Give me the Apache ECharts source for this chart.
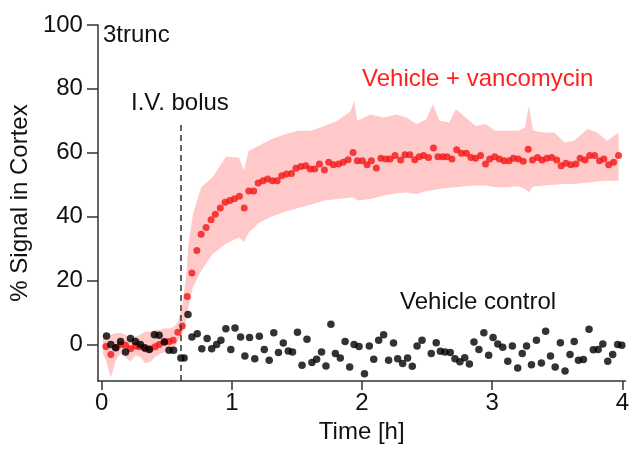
<!DOCTYPE html>
<html>
<head>
<meta charset="utf-8">
<script src="https://cdn.jsdelivr.net/npm/echarts@6/dist/echarts.min.js"></script>
<style>
  html, body { margin: 0; padding: 0; background: #fff; }
  #chart { width: 632px; height: 449px; }
</style>
</head>
<body>
<div id="chart"></div>
<script>
// time in hours, values in % signal
var vancoT = [0.032, 0.070, 0.108, 0.145, 0.183, 0.221, 0.259, 0.289, 0.335, 0.373, 0.411, 0.441, 0.483, 0.517, 0.549, 0.585, 0.619, 0.657, 0.693, 0.731,
  0.764, 0.802, 0.840, 0.873, 0.911, 0.948, 0.984, 1.020, 1.058, 1.095, 1.130, 1.168, 1.202, 1.239, 1.274, 1.312, 1.348, 1.383, 1.420, 1.458,
  1.492, 1.530, 1.567, 1.602, 1.636, 1.673, 1.711, 1.744, 1.780, 1.820, 1.855, 1.893, 1.931, 1.964, 2.002, 2.039, 2.072, 2.110, 2.145, 2.183,
  2.216, 2.254, 2.297, 2.330, 2.367, 2.405, 2.439, 2.473, 2.511, 2.549, 2.583, 2.620, 2.653, 2.691, 2.727, 2.764, 2.802, 2.837, 2.873, 2.911,
  2.949, 2.981, 3.019, 3.055, 3.092, 3.130, 3.163, 3.201, 3.239, 3.277, 3.310, 3.348, 3.383, 3.420, 3.458, 3.496, 3.530, 3.567, 3.605, 3.643,
  3.676, 3.714, 3.749, 3.787, 3.825, 3.858, 3.895, 3.933, 3.971];
var vancoY = [-0.7, -3.2, -1.0, -0.1, -0.3, -1.4, -0.5, -0.8, -1.4, -1.4, -0.8, -0.1, 0.9, 0.9, 1.25, 3.8, 5.7, 15, 22.3, 29.4,
  34.5, 36.6, 39, 40.7, 42.7, 44.5, 45, 45.6, 46.4, 42.7, 48, 48, 50.5, 51.25, 51.8, 51.25, 51.25, 52.8, 53.3, 53.5,
  55.1, 55.7, 55.9, 54.9, 54.9, 56.5, 54.6, 57, 56.25, 56.5, 57, 57.8, 60.1, 57.5, 57.5, 56.25, 57.5, 55.2, 58.3, 58,
  58, 59.1, 57.7, 59.4, 59.4, 57.8, 58.75, 59.1, 58.5, 61.5, 58.75, 58.75, 58.75, 58.0, 60.9, 59.8, 59.8, 58.5, 58.3, 59.1,
  56.5, 58.0, 58.75, 58.0, 57.5, 57.5, 58.3, 58.0, 57.3, 61.1, 57.7, 58.5, 57.7, 58.3, 58.5, 57.7, 55.9, 56.7, 56.25, 56.5,
  58.3, 57.7, 59.1, 59.1, 57.5, 58.0, 56.25, 57.0, 59.1];

// shaded spread of the vancomycin group
var bandT = [0.009, 0.032, 0.070, 0.108, 0.145, 0.183, 0.221, 0.259, 0.297, 0.335, 0.373, 0.411, 0.448, 0.486, 0.524, 0.555, 0.585, 0.619, 0.651, 0.663,
  0.701, 0.764, 0.852, 0.954, 1.055, 1.092, 1.130, 1.206, 1.307, 1.408, 1.509, 1.610, 1.711, 1.812, 1.913, 1.939, 1.964, 2.064, 2.166, 2.267,
  2.342, 2.418, 2.494, 2.545, 2.595, 2.670, 2.721, 2.797, 2.873, 2.949, 3.024, 3.100, 3.201, 3.252, 3.282, 3.314, 3.403, 3.479, 3.555, 3.630,
  3.731, 3.807, 3.883, 3.971];
var bandHi = [3, 3, 3, 3.5, 3.5, 3, 1.5, 2.5, 3, 4, 4, 4.5, 4.5, 5, 5, 5.5, 7, 12, 22, 30.4,
  40.8, 49.2, 52.3, 58.75, 58.5, 54.4, 60.6, 62.2, 64.3, 65.8, 66.9, 66.9, 68.4, 70, 73.1, 76.25, 70, 72, 71, 72,
  71, 69, 70.5, 75.2, 70, 69.5, 73.6, 71, 68.4, 69, 66.9, 66.9, 66.9, 67.9, 74.7, 66.9, 66.3, 66.3, 63.2, 63.75,
  67.4, 66.3, 63.75, 66.3];
var bandLo = [-3, -5, -10.5, -5, -3, -4, -5.5, -3.5, -4, -6, -5.5, -4, -3, -2.5, -2, -1.5, 1, 3, 8, 11,
  17.9, 23, 28.3, 31.5, 33.5, 32, 35, 38, 40, 41.5, 42.7, 43.8, 45, 45.5, 46, 46, 45, 45.5, 46.6, 47.3,
  47.5, 47.1, 48, 48.3, 48.6, 49, 49.2, 49.5, 49.7, 49.7, 49.2, 49.2, 49.5, 48.6, 47.6, 49.4, 49.7, 50, 50.2, 50.2,
  50.7, 51, 51.25, 51.25];

var controlT = [0.037, 0.070, 0.108, 0.145, 0.183, 0.221, 0.259, 0.297, 0.330, 0.365, 0.405, 0.441, 0.481, 0.517, 0.552, 0.608, 0.633, 0.663, 0.693, 0.734,
  0.769, 0.810, 0.845, 0.883, 0.916, 0.954, 0.992, 1.024, 1.067, 1.100, 1.136, 1.176, 1.211, 1.249, 1.287, 1.322, 1.358, 1.395, 1.433, 1.466,
  1.504, 1.539, 1.577, 1.615, 1.651, 1.689, 1.723, 1.761, 1.795, 1.833, 1.870, 1.905, 1.939, 1.977, 2.019, 2.056, 2.090, 2.128, 2.166, 2.204,
  2.242, 2.274, 2.312, 2.350, 2.386, 2.423, 2.461, 2.532, 2.570, 2.602, 2.638, 2.678, 2.714, 2.752, 2.789, 2.825, 2.860, 2.898, 2.936, 2.973,
  3.007, 3.043, 3.081, 3.120, 3.155, 3.196, 3.231, 3.264, 3.302, 3.340, 3.378, 3.411, 3.448, 3.484, 3.524, 3.560, 3.598, 3.630, 3.663, 3.701,
  3.744, 3.777, 3.814, 3.850, 3.888, 3.926, 3.964, 3.996];
var controlY = [2.6, -0.1, -1.1, 0.9, -2.4, 1.8, 0.9, -0.1, -1.1, -1.6, 3.0, 2.8, 0.7, -1.9, -1.9, -4.3, -4.3, 9.3, 2.3, 3.3,
  -1.4, 1.8, -1.4, -0.1, 1.25, 4.9, -1.6, 5.1, 2.3, -3.7, 2.1, -4.5, 2.5, -1.6, -5, 3.6, -2.6, 0.4, -2.1, -2.4,
  3.8, -6.6, 1.6, -5.7, -4.7, -2.4, -6.8, 6.25, -2.9, -4.3, 0.9, -7.1, -0.1, -0.7, -9.2, -0.5, -4.7, 1.25, 3.0, -5,
  0.4, -4.5, -6, -4.3, -6.9, -0.5, 1.25, -2.9, 0.5, -2.2, -2.4, -2.6, -4.5, -5.5, -4.2, -6.2, 0.7, -1.6, 3.6, -3.4,
  2.1, 0.1, -0.9, -5.3, -0.5, -7.4, -2.9, -0.5, -6.4, 1.25, -5.9, 4.1, -3.7, -7.1, 0.5, -8.4, -3.2, 0.9, -5, -4.8,
  4.7, -1.7, -1.6, 0.1, -5.3, -3.2, -0.1, -0.3];

var xTicks = [0, 1, 2, 3, 4];
var yTicks = [0, 20, 40, 60, 80, 100];
var bolusT = 0.606;
var bolusTop = 68.7;

var FONT = "'Liberation Sans', Arial, sans-serif";
var AXIS = '#333';

function pairs(xs, ys) {
  return xs.map(function (x, i) { return [x, ys[i]]; });
}

// the band is drawn as one polygon: upper edge forward, lower edge back
function renderBand(params, api) {
  if (params.dataIndex !== 0) return null;
  var pts = [];
  for (var i = 0; i < bandT.length; i++) pts.push(api.coord([bandT[i], bandHi[i]]));
  for (var j = bandT.length - 1; j >= 0; j--) pts.push(api.coord([bandT[j], bandLo[j]]));
  return {
    type: 'polygon',
    shape: { points: pts },
    style: { fill: '#ffc9c9', stroke: null }
  };
}

var myChart = echarts.init(document.getElementById('chart'), null, { renderer: 'canvas' });

myChart.setOption({
  animation: false,
  backgroundColor: '#fff',
  grid: { left: 97, right: 0, top: 25, bottom: 68, containLabel: false },
  xAxis: {
    type: 'value',
    min: -0.029,
    max: 4.024,
    name: 'Time [h]',
    nameLocation: 'middle',
    nameGap: 33,
    nameTextStyle: { fontSize: 24, color: '#111', fontFamily: FONT },
    axisLine: { show: true, onZero: false, lineStyle: { color: AXIS, width: 1.5 } },
    axisTick: { show: true, length: 9, customValues: xTicks, lineStyle: { color: AXIS, width: 1.5 } },
    axisLabel: { customValues: xTicks, fontSize: 24, color: '#111', fontFamily: FONT, margin: 10 },
    splitLine: { show: false }
  },
  yAxis: {
    type: 'value',
    min: -11.5,
    max: 100,
    name: '% Signal in Cortex',
    nameLocation: 'middle',
    nameGap: 58,
    nameTextStyle: { fontSize: 24, color: '#111', fontFamily: FONT },
    axisLine: { show: true, onZero: false, lineStyle: { color: AXIS, width: 1.5 } },
    axisTick: { show: true, length: 11, customValues: yTicks, lineStyle: { color: AXIS, width: 1.5 } },
    axisLabel: { customValues: yTicks, fontSize: 24, color: '#111', fontFamily: FONT, margin: 15 },
    splitLine: { show: false }
  },
  graphic: [
    { type: 'text', left: 103, top: 23, style: { text: '3trunc', font: '24px ' + FONT, fill: '#111' } },
    { type: 'text', left: 131, top: 91, style: { text: 'I.V. bolus', font: '24px ' + FONT, fill: '#111' } },
    { type: 'text', left: 362, top: 67, style: { text: 'Vehicle + vancomycin', font: '24px ' + FONT, fill: '#ff2020' } },
    { type: 'text', left: 400, top: 290, style: { text: 'Vehicle control', font: '24px ' + FONT, fill: '#111' } }
  ],
  series: [
    {
      name: 'spread',
      type: 'custom',
      renderItem: renderBand,
      data: bandT.map(function (t, i) { return [t, bandLo[i], bandHi[i]]; }),
      encode: { x: 0, y: [1, 2] },
      silent: true,
      clip: true,
      z: 1
    },
    {
      name: 'Vehicle + vancomycin',
      type: 'scatter',
      data: pairs(vancoT, vancoY),
      symbolSize: 7,
      itemStyle: { color: '#f41515' },
      z: 3,
      markLine: {
        silent: true,
        symbol: 'none',
        label: { show: false },
        lineStyle: { type: [6, 4], color: '#333', width: 1.5 },
        data: [[{ coord: [bolusT, -11.5] }, { coord: [bolusT, bolusTop] }]]
      }
    },
    {
      name: 'Vehicle control',
      type: 'scatter',
      data: pairs(controlT, controlY),
      symbolSize: 7.5,
      itemStyle: { color: '#000' },
      z: 4
    }
  ]
});
</script>
</body>
</html>
